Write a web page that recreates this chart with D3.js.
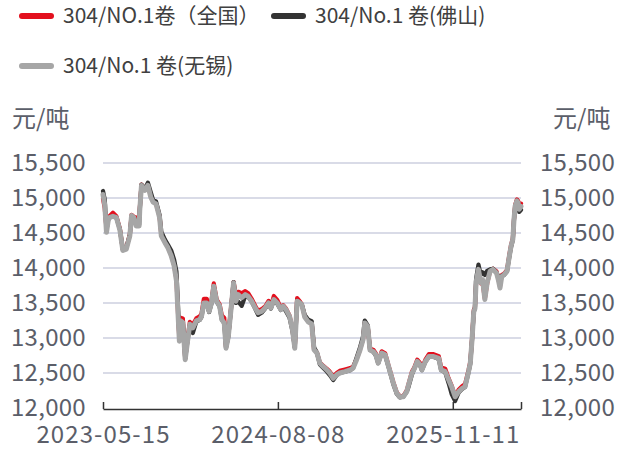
<!DOCTYPE html>
<html><head><meta charset="utf-8">
<script src="https://cdn.jsdelivr.net/npm/d3@7"></script>
<style>
html,body{margin:0;padding:0;background:#fff;}
svg{display:block;font-family:"Noto Sans CJK SC","Noto Sans",sans-serif;}
</style></head>
<body><div id="chart"></div>
<script>
// trading-day index of each sample
const dayIndex = [0,3,6,9,11,17,23,29,34,40,46,49,53,57,62,63,66,72,77,82,86,91,97,100,106,111,117,122,126,129,131,133,137,141,145,149,154,160,166,169,173,178,182,186,190,195,200,204,208,211,215,219,224,228,232,238,244,249,255,261,266,272,278,284,288,293,299,305,309,314,320,325,329,333,338,341,346,352,358,362,367,372,378,384,389,395,401,406,415,424,429,435,441,446,449,454,458,464,468,472,478,484,490,498,504,509,515,521,524,530,534,539,544,547,553,559,567,576,580,587,593,598,604,610,616,621,627,630,633,636,638,640,644,648,651,655,659,664,669,675,678,681,684,688,693,697,700,703,705,707,710,712,714,717];
const seriesNames = ["304/NO.1卷（全国）","304/No.1 卷(佛山)","304/No.1 卷(无锡)"];
const national = [14990,14850,14560,14700,14740,14790,14740,14560,14270,14290,14480,14760,14730,14720,14720,14840,15190,15130,15190,15030,14950,14920,14740,14480,14380,14300,14190,14040,13840,13300,12980,13290,13280,12710,12990,13230,13190,13280,13310,13350,13560,13560,13410,13520,13780,13550,13480,13320,13290,12870,13040,13380,13800,13620,13660,13640,13670,13640,13560,13460,13390,13410,13450,13530,13450,13600,13540,13430,13470,13420,13320,13130,12870,13570,13520,13480,13310,13240,13210,12840,12790,12650,12600,12560,12520,12450,12500,12530,12550,12570,12590,12700,12840,12980,13220,13170,12850,12830,12780,12650,12810,12780,12600,12370,12220,12170,12170,12250,12340,12520,12580,12690,12640,12570,12690,12770,12770,12740,12580,12560,12420,12320,12170,12260,12310,12340,12540,12660,12990,13400,13440,13790,13960,13780,13800,13560,13780,13960,13990,13950,13850,13740,13900,13920,13970,14190,14330,14420,14700,14900,14980,14960,14880,14920];
const foshan = [15100,14980,14540,14690,14720,14740,14720,14550,14260,14290,14470,14740,14720,14620,14620,14820,15190,15130,15220,15080,14970,14950,14760,14520,14410,14340,14250,14120,13950,13400,13000,13240,13220,12700,12960,13180,13070,13230,13260,13300,13490,13480,13370,13490,13740,13520,13450,13260,13210,12860,13020,13360,13800,13500,13520,13460,13600,13590,13520,13420,13330,13360,13420,13490,13420,13540,13490,13400,13440,13380,13290,13100,12860,13530,13500,13480,13330,13260,13240,12870,12790,12620,12570,12520,12470,12400,12470,12500,12520,12540,12570,12720,12870,13020,13250,13180,12830,12800,12750,12640,12780,12750,12580,12340,12200,12150,12160,12230,12300,12480,12560,12660,12610,12540,12660,12730,12730,12700,12540,12510,12350,12200,12100,12220,12270,12300,12510,12630,12970,13370,13430,13850,14050,13900,13940,13900,13960,13980,13990,13930,13880,13800,13890,13900,13950,14160,14300,14400,14690,14880,14960,14930,14800,14830];
const wuxi = [15050,14900,14510,14680,14720,14740,14720,14540,14250,14270,14460,14750,14720,14600,14600,14820,15180,15110,15180,15010,14940,14915,14725,14460,14365,14295,14175,14030,13815,13290,12955,13245,13220,12690,12955,13195,13145,13245,13265,13310,13500,13500,13380,13500,13740,13525,13455,13260,13215,12855,13020,13360,13790,13525,13620,13575,13620,13595,13525,13430,13360,13380,13430,13500,13430,13550,13500,13405,13455,13405,13310,13120,12855,13525,13500,13475,13300,13230,13200,12830,12785,12640,12590,12545,12500,12425,12475,12500,12520,12545,12570,12690,12830,12975,13215,13165,12830,12805,12760,12640,12785,12760,12590,12355,12210,12160,12160,12235,12330,12500,12560,12665,12615,12545,12665,12735,12735,12710,12545,12520,12400,12305,12160,12235,12280,12305,12520,12640,12975,13380,13420,13800,13980,13790,13835,13550,13790,13955,13980,13930,13835,13715,13880,13905,13955,14170,14315,14410,14695,14885,14960,14935,14840,14880];
const yTicks = [12000,12500,13000,13500,14000,14500,15000,15500];
const xTickIndex = [0,300,600,717];
const xTickLabels = ["2023-05-15","2024-08-08","2025-11-11",""];
const colors = ["#e3101e","#333333","#a6a6a6"];
const unitLabel = "元/吨";

const W=625,H=450;
const svg=d3.select("#chart").append("svg").attr("width",W).attr("height",H);
const x=d3.scaleLinear().domain([0,717]).range([103,521]);
const y=d3.scaleLinear().domain([12000,15500]).range([408,163]);
const fmt=d3.format(",");
const txt="#5b5e69";

// gridlines
svg.append("g").selectAll("line").data(yTicks.filter(d=>d>12000)).join("line")
  .attr("x1",103).attr("x2",521).attr("y1",d=>y(d)).attr("y2",d=>y(d))
  .attr("stroke","#d9dbe7").attr("stroke-width",2);

// left axis labels
const yl=d3.axisLeft(y).tickValues(yTicks).tickFormat(fmt).tickSize(0).tickPadding(17);
const gl=svg.append("g").attr("transform","translate(103,0)").call(yl);
gl.select(".domain").remove();
gl.selectAll("text").attr("font-size",24).attr("fill",txt).attr("font-family","'Noto Sans CJK SC',sans-serif").attr("letter-spacing",0.3);
const yr=d3.axisRight(y).tickValues(yTicks).tickFormat(fmt).tickSize(0).tickPadding(19);
const gr=svg.append("g").attr("transform","translate(521,0)").call(yr);
gr.select(".domain").remove();
gr.selectAll("text").attr("font-size",24).attr("fill",txt).attr("font-family","'Noto Sans CJK SC',sans-serif").attr("letter-spacing",0.3);

// x axis
const xa=d3.axisBottom(x).tickValues(xTickIndex).tickFormat((d,i)=>xTickLabels[i]).tickSize(-7).tickPadding(17).tickSizeOuter(0);
const gx=svg.append("g").attr("transform","translate(0,409)").call(xa);
gx.select(".domain").attr("stroke","#333").attr("stroke-width",1.5);
gx.selectAll(".tick line").attr("stroke","#333").attr("stroke-width",1.5);
gx.selectAll("text").attr("font-size",24).attr("fill",txt).attr("font-family","'Noto Sans CJK SC',sans-serif").attr("letter-spacing",1.1);

// lines
const all=[national,foshan,wuxi];
const line=d3.line().x((d,i)=>x(dayIndex[i])).y(d=>y(d));
all.forEach((s,k)=>{
  svg.append("path").datum(s).attr("d",line).attr("fill","none")
    .attr("stroke",colors[k]).attr("stroke-width",k===2?5:4.2)
    .attr("stroke-linejoin","round").attr("stroke-linecap","round");
});

// unit labels
svg.append("text").attr("x",12).attr("y",127).text(unitLabel).attr("font-size",24).attr("fill",txt);
svg.append("text").attr("x",553).attr("y",127).text(unitLabel).attr("font-size",24).attr("fill",txt);

// legend
const legPos=[[20,16],[272,16],[20,66]];
seriesNames.forEach((n,k)=>{
  const [lx,ly]=legPos[k];
  svg.append("line").attr("x1",lx+2).attr("x2",lx+31).attr("y1",ly).attr("y2",ly)
    .attr("stroke",colors[k]).attr("stroke-width",6).attr("stroke-linecap","round");
  svg.append("text").attr("x",lx+43).attr("y",ly).attr("dy","0.35em").text(n)
    .attr("font-size",21).attr("fill","#404040");
});
</script></body></html>
